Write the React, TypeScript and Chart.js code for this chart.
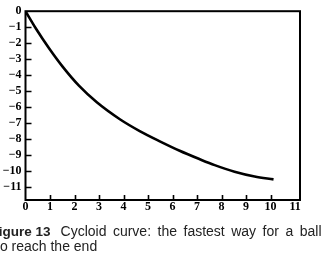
import React, { useEffect, useRef } from "react";
import { Chart, registerables } from "chart.js";

Chart.register(...registerables);

// Path of the ball: horizontal distance and height
const pathX = [0, 0.43, 0.96, 1.53, 2.18, 2.91, 3.85, 4.66, 5.48, 6.29, 7.11, 7.72, 8.53, 9.35, 10.12];
const pathY = [0, -1.1, -2.32, -3.5, -4.66, -5.7, -6.76, -7.5, -8.14, -8.73, -9.26, -9.63, -10.04, -10.34, -10.52];

const xTicks = [0, 1, 2, 3, 4, 5, 6, 7, 8, 9, 10, 11];
const yTicks = [0, -1, -2, -3, -4, -5, -6, -7, -8, -9, -10, -11];

const X_MAX = 11.2;
const Y_MIN = -11.81;

const fmt = (v: number) => (v < 0 ? "\u2212" + Math.abs(v) : String(v));

// Closed frame round the plot with short inward tick marks
const framePlugin = {
  id: "frameAndTicks",
  afterDatasetsDraw(chart: any) {
    const { ctx, chartArea } = chart;
    const { left, right, top, bottom } = chartArea;
    const xs = chart.scales.x;
    const ys = chart.scales.y;
    ctx.save();
    ctx.strokeStyle = "#000";
    ctx.lineWidth = 2;
    ctx.strokeRect(left, top, right - left, bottom - top);
    ctx.lineWidth = 1.6;
    ctx.beginPath();
    for (const v of xTicks) {
      if (v === 0 || v === 11) continue;
      const px = Math.round(xs.getPixelForValue(v)) + 0.5;
      ctx.moveTo(px, bottom);
      ctx.lineTo(px, bottom - 5);
    }
    for (const v of yTicks) {
      if (v === 0) continue;
      const py = Math.round(ys.getPixelForValue(v)) + 0.5;
      ctx.moveTo(left, py);
      ctx.lineTo(left + 6, py);
    }
    ctx.stroke();
    ctx.restore();
  },
};

export default function App() {
  const ref = useRef<HTMLCanvasElement | null>(null);

  useEffect(() => {
    if (!ref.current) return;
    const tickFont = { family: "'Liberation Serif', 'Times New Roman', serif", size: 12, weight: "bold" as const };
    const chart = new Chart(ref.current, {
      type: "scatter",
      data: {
        datasets: [
          {
            data: pathX.map((x, i) => ({ x, y: pathY[i] })),
            showLine: true,
            borderColor: "#000",
            borderWidth: 2.6,
            pointRadius: 0,
            cubicInterpolationMode: "monotone",
          },
        ],
      },
      options: {
        animation: false,
        responsive: false,
        maintainAspectRatio: false,
        layout: { padding: { top: 7.5, right: 25, left: 0, bottom: 0 } },
        plugins: { legend: { display: false }, tooltip: { enabled: false } },
        scales: {
          x: {
            type: "linear",
            min: 0,
            max: X_MAX,
            border: { display: false },
            grid: { display: false, drawTicks: false },
            afterBuildTicks: (s: any) => {
              s.ticks = xTicks.map((v) => ({ value: v }));
            },
            afterFit: (s: any) => {
              s.height = 62;
            },
            ticks: {
              color: "#000",
              font: tickFont,
              padding: 0,
              maxRotation: 0,
              autoSkip: false,
              callback: (v: any) => fmt(Number(v)),
            },
          },
          y: {
            type: "linear",
            min: Y_MIN,
            max: 0,
            border: { display: false },
            grid: { display: false, drawTicks: false },
            afterBuildTicks: (s: any) => {
              s.ticks = yTicks.map((v) => ({ value: v }));
            },
            afterFit: (s: any) => {
              s.width = 25.5;
            },
            ticks: {
              color: "#000",
              font: tickFont,
              padding: 4,
              autoSkip: false,
              callback: (v: any) => fmt(Number(v)),
            },
          },
        },
      },
      plugins: [framePlugin],
    });
    return () => chart.destroy();
  }, []);

  const captionFont: React.CSSProperties = {
    position: "absolute",
    fontFamily: "'Liberation Sans', Arial, sans-serif",
    fontSize: 14,
    lineHeight: "15px",
    color: "#222",
    whiteSpace: "nowrap",
  };

  return (
    <div
      style={{
        position: "fixed",
        left: 0,
        top: 0,
        width: 325,
        height: 262,
        overflow: "hidden",
        background: "#fff",
      }}
    >
      <canvas ref={ref} width={325} height={262} style={{ display: "block" }} />
      <div style={{ ...captionFont, left: -9.5, top: 224 }}>
        <span style={{ fontWeight: "bold", fontSize: 13.5 }}>Figure 13</span>
        <span style={{ marginLeft: 10, wordSpacing: 2.6 }}>Cycloid curve: the fastest way for a ball</span>
      </div>
      <div style={{ ...captionFont, left: -4, top: 239 }}>to reach the end</div>
    </div>
  );
}
